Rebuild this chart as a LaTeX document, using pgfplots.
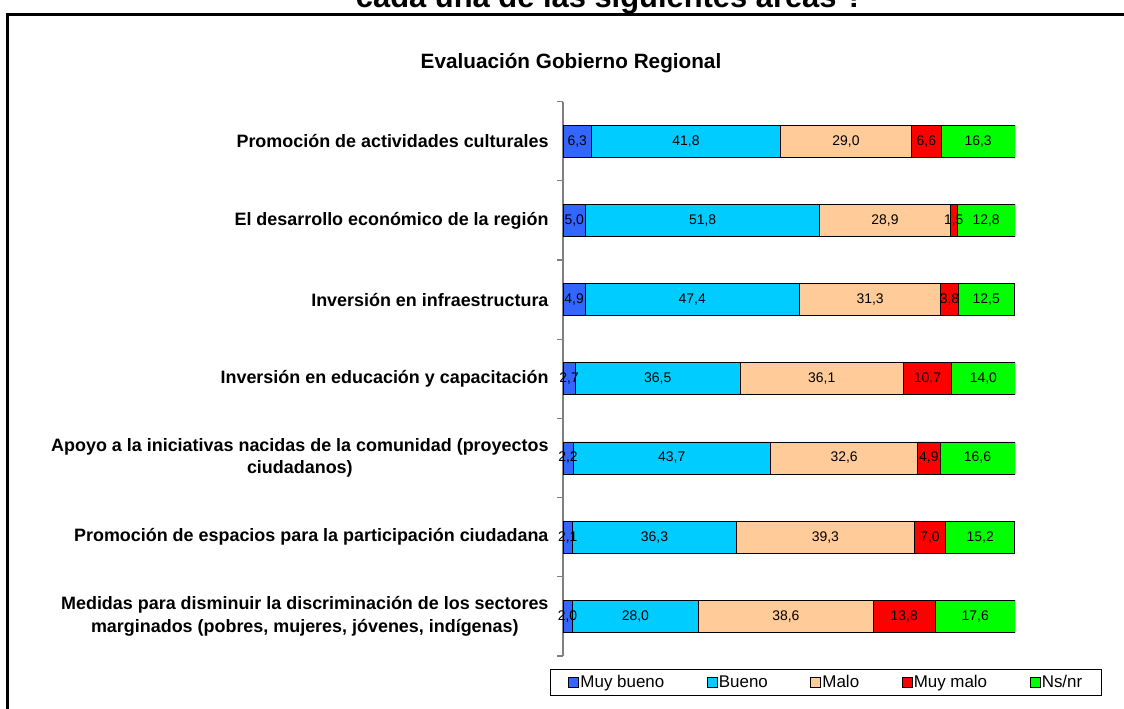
\documentclass[border=0pt]{standalone}
\usepackage{pgfplots}
\pgfplotsset{compat=1.18}
\usepackage{pgfplotstable}
\usepackage{fontspec}
\setmainfont{Liberation Sans}
\definecolor{cMB}{HTML}{3366FF}
\definecolor{cB}{HTML}{00CCFF}
\definecolor{cM}{HTML}{FFCC99}
\definecolor{cMM}{HTML}{FF0000}
\definecolor{cNS}{HTML}{00FF00}
\definecolor{axgray}{RGB}{128,128,128}
\pgfplotstableread{
idx mb b m mm ns
0 6.3 41.8 29.0 6.6 16.3
1 5.0 51.8 28.9 1.5 12.8
2 4.9 47.4 31.3 3.8 12.5
3 2.7 36.5 36.1 10.7 14.0
4 2.2 43.7 32.6 4.9 16.6
5 2.1 36.3 39.3 7.0 15.2
6 2.0 28.0 38.6 13.8 17.6
}\data
\begin{document}
\begin{tikzpicture}[x=1bp,y=1bp]
\useasboundingbox (0,0) rectangle (1124,709);
\draw[line width=3.5bp] (7.5,0) -- (7.5,694.5) -- (1130,694.5);
\node[anchor=base,font=\bfseries\fontsize{31}{36}\selectfont,inner sep=0] at (610,701) {cada una de las siguientes áreas ?};
\node[anchor=base,font=\bfseries\fontsize{20.8}{24}\selectfont,inner sep=0] at (571,640) {Evaluación Gobierno Regional};
\begin{axis}[
  at={(563bp,53bp)}, anchor=south west,
  scale only axis, width=452bp, height=554.4bp,
  xbar stacked, bar width=0.404,
  xmin=0, xmax=100, ymin=-0.5, ymax=6.5, y dir=reverse,
  axis x line=none, axis y line*=left,
  y axis line style={axgray, line width=1.5bp},
  ytick={0,...,6},
  yticklabels={
    Promoción de actividades culturales,
    El desarrollo económico de la región,
    Inversión en infraestructura,
    Inversión en educación y capacitación,
    {Apoyo a la iniciativas nacidas de la comunidad (proyectos\\ciudadanos)},
    Promoción de espacios para la participación ciudadana,
    {Medidas para disminuir la discriminación de los sectores\\marginados (pobres, mujeres, jóvenes, indígenas)}
  },
  minor ytick={-0.5,0.5,...,6.5},
  major tick length=0pt, minor tick length=6bp, tick align=outside,
  every minor tick/.style={axgray, line width=1.2bp},
  yticklabel style={font=\bfseries\fontsize{18}{22.5}\selectfont, align=center, xshift=-11bp},
  nodes near coords={\pgfmathprintnumber[fixed,fixed zerofill,precision=1,use comma,assume math mode=true]{\vv}},
  every node near coord/.append style={anchor=center, font=\fontsize{14}{16}\selectfont, text=black, inner sep=0pt},
  legend columns=5,
  legend image code/.code={\draw[#1, draw=black, line width=0.6bp] (0bp,-5bp) rectangle (10bp,5bp);},
  legend style={at={(-0.0288,-0.0234)}, anchor=north west, draw=black, line width=0.8bp,
     font=\fontsize{17}{20}\selectfont, inner xsep=18bp, inner ysep=5bp,
     nodes={inner xsep=1.5bp, inner ysep=1bp},
     /tikz/every even column/.append style={column sep=41bp}},
]
\addplot[fill=cMB, draw=black, line width=0.8bp, visualization depends on={\thisrow{mb} \as \vv}] table[x=mb,y=idx]{\data};
\addplot[fill=cB, draw=black, line width=0.8bp, visualization depends on={\thisrow{b} \as \vv}] table[x=b,y=idx]{\data};
\addplot[fill=cM, draw=black, line width=0.8bp, visualization depends on={\thisrow{m} \as \vv}] table[x=m,y=idx]{\data};
\addplot[fill=cMM, draw=black, line width=0.8bp, visualization depends on={\thisrow{mm} \as \vv}] table[x=mm,y=idx]{\data};
\addplot[fill=cNS, draw=black, line width=0.8bp, visualization depends on={\thisrow{ns} \as \vv}] table[x=ns,y=idx]{\data};
\legend{Muy bueno, Bueno, Malo, Muy malo, Ns/nr}
\end{axis}
\end{tikzpicture}
\end{document}
